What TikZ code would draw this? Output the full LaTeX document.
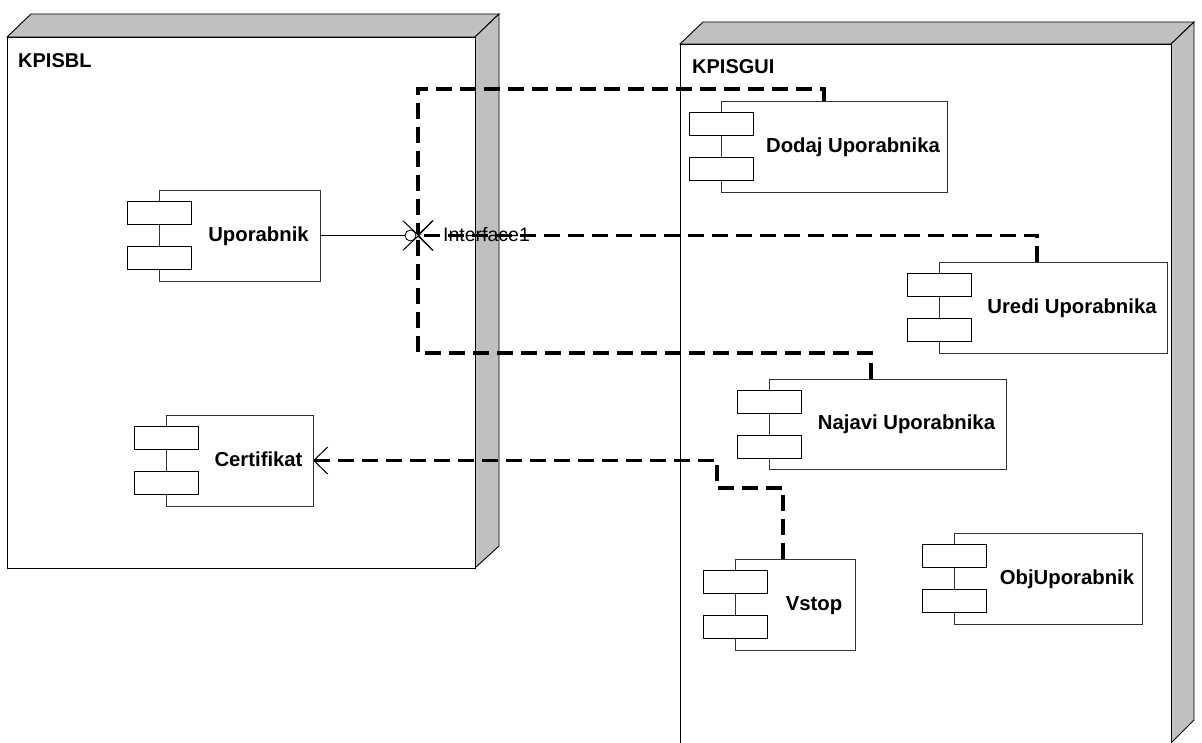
\documentclass[tikz,border=0pt]{standalone}
\usepackage{fontspec}
\setmainfont{Liberation Sans}
\usetikzlibrary{arrows.meta}
\definecolor{nodegray}{HTML}{C0C0C0}

% UML component: #1 name, #2 left, #3 top, #4 right, #5 bottom, #6 label
\newcommand\umlcomponent[6]{%
  \node[compbox, minimum width={#4-#2}, minimum height={#5-#3}] (#1) at ({(#2+#4)/2},{(#3+#5)/2}) {};
  \node[compport] (#1-p1) at ([yshift=-22.5pt]#1.north west) {};
  \node[compport] (#1-p2) at ([yshift=-67.5pt]#1.north west) {};
  \node[complabel] (#1-label) at ({(#2+32+#4)/2+3},{(#3+#5)/2+5.5}) {#6};
}

\begin{document}
\begin{tikzpicture}[x=1pt,y=-1pt,
  nodeface/.style={draw=black, line width=0.9pt, fill=white},
  nodeshade/.style={draw=black, line width=0.9pt, fill=nodegray},
  nodetitle/.style={font=\bfseries\fontsize{20}{24}\selectfont, anchor=base west, inner sep=0pt},
  compbox/.style={draw=black!80, line width=0.8pt, fill=white, inner sep=0pt, outer sep=0pt},
  compport/.style={draw=black, line width=0.8pt, fill=white, minimum width=64pt, minimum height=23pt, inner sep=0pt, outer sep=0pt},
  complabel/.style={font=\bfseries\fontsize{20.3}{24}\selectfont, anchor=base, inner sep=0pt},
  dashline/.style={line width=3.2pt, dash pattern=on 16pt off 8pt},
  dep/.style={dashline, -{Straight Barb[length=14pt,width=30pt,line width=1pt]}},
  lollipop/.style={circle, draw=black, line width=0.8pt, fill=white, minimum size=11pt, inner sep=0pt, outer sep=0pt}
]
\useasboundingbox (0,0) rectangle (1202,742);
\clip (0,0) rectangle (1202,742);

% Node KPISBL
\fill[white] (0,0) rectangle (1202,742);
\draw[nodeshade] (7,37) -- (31,14) -- (499,14) -- (475,37) -- cycle;
\draw[nodeshade] (475,37) -- (499,14) -- (499,546) -- (475,568) -- cycle;
\draw[nodeface] (7,37) rectangle (475,568);
\node[nodetitle] (bltitle) at (18,67) {KPISBL};

% Node KPISGUI
\draw[nodeshade] (680,44) -- (703,22) -- (1194,22) -- (1171,44) -- cycle;
\draw[nodeshade] (1171,44) -- (1194,22) -- (1194,720) -- (1171,743) -- cycle;
\draw[nodeface] (680,44) rectangle (1171,745);
\node[nodetitle] (guititle) at (692,73) {KPISGUI};

% Components
\umlcomponent{uporabnik}{159}{190}{320}{281}{Uporabnik}
\umlcomponent{certifikat}{166}{415}{313}{506}{Certifikat}
\umlcomponent{dodaj}{721}{101}{947}{192}{Dodaj Uporabnika}
\umlcomponent{uredi}{939}{262}{1167}{353}{Uredi Uporabnika}
\umlcomponent{najavi}{769}{379}{1006}{469}{Najavi Uporabnika}
\umlcomponent{vstop}{735}{559}{855}{650}{Vstop}
\umlcomponent{obj}{954}{533}{1142}{624}{ObjUporabnik}

% Provided interface
\node[lollipop] (iface) at (410.5,235.5) {};
\coordinate (ifc) at (418,235.5);
\draw[line width=0.8pt] (uporabnik.east) -- (iface.west);
\node[font=\fontsize{19.5}{23}\selectfont, anchor=base west, inner sep=0pt] (ifacelabel) at (443,241) {Interface1};

% Dependencies on the interface
\draw[dep] ([xshift=103pt]dodaj.north west) -- ++(0,12pt) -| (ifc);
\draw[dep] ([xshift=98pt]uredi.north west) |- (ifc);
\draw[dep] ([xshift=102pt]najavi.north west) -- ++(0,26pt) -| (ifc);

% Vstop uses Certifikat
\draw[dashline, -{Straight Barb[length=14pt,width=27pt,line width=1pt]}]
  ([xshift=48pt]vstop.north west) -- ++(0,71pt) -- ++(-66pt,0) |- (certifikat.east);
\end{tikzpicture}
\end{document}
